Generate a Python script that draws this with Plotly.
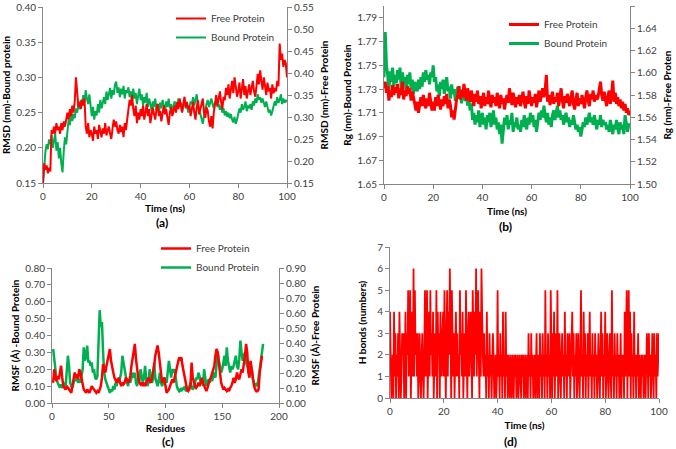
import numpy as np
import plotly.graph_objects as go

RED = "#FF0000"
GREEN = "#00B050"
AXIS = "#868686"
FONT = "Lato"

# (a) RMSD, sampled every 0.5 ns
rmsd_free = [  # right axis
    0.150, 0.195, 0.180, 0.190, 0.172, 0.185, 0.176, 0.270, 0.262, 0.278,
    0.262, 0.286, 0.270, 0.278, 0.262, 0.286, 0.270, 0.290, 0.278, 0.300,
    0.310, 0.294, 0.318, 0.302, 0.326, 0.310, 0.334, 0.390, 0.342, 0.323,
    0.334, 0.318, 0.339, 0.326, 0.342, 0.278, 0.262, 0.286, 0.254, 0.270,
    0.262, 0.246, 0.278, 0.262, 0.270, 0.250, 0.282, 0.266, 0.254, 0.274,
    0.262, 0.286, 0.258, 0.270, 0.278, 0.262, 0.250, 0.274, 0.294, 0.278,
    0.290, 0.270, 0.262, 0.282, 0.266, 0.278, 0.254, 0.286, 0.270, 0.294,
    0.318, 0.339, 0.326, 0.350, 0.318, 0.302, 0.326, 0.286, 0.310, 0.294,
    0.318, 0.302, 0.326, 0.294, 0.310, 0.330, 0.302, 0.318, 0.286, 0.310,
    0.322, 0.306, 0.294, 0.318, 0.330, 0.302, 0.314, 0.290, 0.310, 0.326,
    0.306, 0.318, 0.298, 0.282, 0.310, 0.322, 0.302, 0.314, 0.326, 0.310,
    0.334, 0.318, 0.342, 0.326, 0.310, 0.330, 0.346, 0.322, 0.334, 0.318,
    0.326, 0.302, 0.318, 0.334, 0.310, 0.294, 0.322, 0.338, 0.306, 0.318,
    0.326, 0.342, 0.310, 0.298, 0.322, 0.314, 0.290, 0.278, 0.302, 0.274,
    0.310, 0.334, 0.350, 0.326, 0.342, 0.358, 0.334, 0.318, 0.346, 0.338,
    0.366, 0.350, 0.374, 0.342, 0.362, 0.382, 0.354, 0.390, 0.370, 0.346,
    0.358, 0.378, 0.342, 0.362, 0.386, 0.350, 0.370, 0.342, 0.358, 0.374,
    0.350, 0.366, 0.382, 0.358, 0.346, 0.370, 0.398, 0.374, 0.406, 0.382,
    0.362, 0.390, 0.370, 0.350, 0.378, 0.358, 0.366, 0.342, 0.374, 0.354,
    0.366, 0.358, 0.382, 0.370, 0.467, 0.430, 0.444, 0.414, 0.430, 0.422,
    0.390,
]
rmsd_bound = [  # left axis
    0.150, 0.180, 0.195, 0.205, 0.198, 0.212, 0.205, 0.218, 0.200, 0.210,
    0.220, 0.196, 0.208, 0.185, 0.200, 0.178, 0.165, 0.195, 0.215, 0.205,
    0.225, 0.240, 0.232, 0.252, 0.238, 0.248, 0.242, 0.256, 0.250, 0.262,
    0.255, 0.268, 0.260, 0.275, 0.265, 0.282, 0.270, 0.262, 0.276, 0.255,
    0.245, 0.258, 0.240, 0.252, 0.246, 0.262, 0.250, 0.268, 0.256, 0.264,
    0.272, 0.262, 0.280, 0.268, 0.276, 0.285, 0.270, 0.282, 0.275, 0.290,
    0.294, 0.278, 0.286, 0.272, 0.284, 0.276, 0.288, 0.270, 0.282, 0.278,
    0.286, 0.272, 0.280, 0.266, 0.284, 0.270, 0.278, 0.262, 0.274, 0.284,
    0.268, 0.276, 0.260, 0.272, 0.264, 0.278, 0.258, 0.270, 0.262, 0.252,
    0.266, 0.258, 0.270, 0.254, 0.262, 0.250, 0.264, 0.256, 0.268, 0.260,
    0.252, 0.266, 0.258, 0.270, 0.256, 0.262, 0.248, 0.260, 0.266, 0.254,
    0.262, 0.270, 0.258, 0.264, 0.252, 0.260, 0.268, 0.256, 0.262, 0.250,
    0.258, 0.266, 0.262, 0.272, 0.260, 0.268, 0.276, 0.262, 0.254, 0.248,
    0.240, 0.234, 0.246, 0.256, 0.262, 0.268, 0.258, 0.264, 0.270, 0.262,
    0.256, 0.264, 0.268, 0.258, 0.262, 0.254, 0.260, 0.250, 0.256, 0.246,
    0.252, 0.244, 0.250, 0.242, 0.248, 0.240, 0.236, 0.244, 0.234, 0.240,
    0.248, 0.256, 0.250, 0.262, 0.254, 0.258, 0.266, 0.252, 0.260, 0.256,
    0.262, 0.254, 0.266, 0.260, 0.270, 0.264, 0.276, 0.268, 0.272, 0.264,
    0.270, 0.262, 0.258, 0.266, 0.256, 0.250, 0.254, 0.246, 0.252, 0.258,
    0.266, 0.260, 0.272, 0.264, 0.268, 0.276, 0.262, 0.270, 0.264, 0.268,
    0.265,
]

# (b) Rg, sampled every 0.5 ns
rg_free = [  # right axis
    1.586, 1.592, 1.582, 1.588, 1.575, 1.584, 1.578, 1.589, 1.580, 1.587,
    1.582, 1.590, 1.577, 1.586, 1.580, 1.592, 1.576, 1.584, 1.579, 1.588,
    1.581, 1.586, 1.575, 1.583, 1.578, 1.572, 1.566, 1.574, 1.564, 1.571,
    1.578, 1.570, 1.580, 1.573, 1.568, 1.577, 1.570, 1.582, 1.574, 1.566,
    1.574, 1.566, 1.578, 1.570, 1.580, 1.572, 1.567, 1.576, 1.570, 1.579,
    1.572, 1.581, 1.568, 1.576, 1.571, 1.560, 1.566, 1.558, 1.570, 1.576,
    1.580, 1.588, 1.576, 1.584, 1.578, 1.590, 1.582, 1.575, 1.586, 1.579,
    1.574, 1.584, 1.578, 1.570, 1.581, 1.574, 1.584, 1.572, 1.579, 1.568,
    1.576, 1.582, 1.570, 1.578, 1.572, 1.584, 1.574, 1.569, 1.580, 1.573,
    1.578, 1.570, 1.582, 1.574, 1.568, 1.580, 1.572, 1.577, 1.567, 1.575,
    1.580, 1.573, 1.586, 1.578, 1.571, 1.582, 1.574, 1.569, 1.578, 1.572,
    1.580, 1.570, 1.576, 1.583, 1.574, 1.568, 1.579, 1.572, 1.584, 1.575,
    1.570, 1.578, 1.573, 1.581, 1.569, 1.576, 1.584, 1.574, 1.580, 1.586,
    1.578, 1.584, 1.598, 1.574, 1.580, 1.571, 1.577, 1.583, 1.572, 1.578,
    1.574, 1.582, 1.570, 1.578, 1.586, 1.575, 1.568, 1.579, 1.573, 1.581,
    1.576, 1.570, 1.578, 1.584, 1.572, 1.567, 1.576, 1.582, 1.570, 1.577,
    1.572, 1.580, 1.574, 1.568, 1.578, 1.584, 1.575, 1.570, 1.581, 1.576,
    1.584, 1.574, 1.580, 1.576, 1.578, 1.586, 1.592, 1.580, 1.575, 1.583,
    1.576, 1.570, 1.578, 1.584, 1.572, 1.580, 1.593, 1.574, 1.582, 1.572,
    1.578, 1.570, 1.576, 1.568, 1.574, 1.566, 1.572, 1.564, 1.568, 1.562,
    1.566,
]
rg_bound = [  # left axis
    1.740, 1.778, 1.750, 1.742, 1.728, 1.745, 1.736, 1.748, 1.732, 1.742,
    1.735, 1.746, 1.738, 1.748, 1.730, 1.744, 1.736, 1.740, 1.728, 1.742,
    1.734, 1.744, 1.730, 1.738, 1.726, 1.736, 1.732, 1.728, 1.738, 1.730,
    1.740, 1.732, 1.744, 1.736, 1.746, 1.738, 1.742, 1.734, 1.744, 1.740,
    1.750, 1.736, 1.740, 1.728, 1.734, 1.724, 1.736, 1.730, 1.738, 1.726,
    1.734, 1.740, 1.728, 1.732, 1.722, 1.734, 1.726, 1.730, 1.720, 1.728,
    1.732, 1.722, 1.728, 1.718, 1.730, 1.724, 1.720, 1.726, 1.716, 1.722,
    1.712, 1.718, 1.704, 1.710, 1.700, 1.708, 1.702, 1.712, 1.698, 1.706,
    1.710, 1.700, 1.706, 1.696, 1.708, 1.702, 1.710, 1.698, 1.704, 1.712,
    1.700, 1.706, 1.696, 1.702, 1.692, 1.700, 1.684, 1.698, 1.706, 1.700,
    1.708, 1.696, 1.704, 1.700, 1.710, 1.694, 1.702, 1.698, 1.706, 1.696,
    1.700, 1.694, 1.704, 1.698, 1.708, 1.700, 1.696, 1.706, 1.700, 1.710,
    1.702, 1.708, 1.698, 1.704, 1.694, 1.702, 1.710, 1.704, 1.712, 1.706,
    1.716, 1.708, 1.702, 1.710, 1.700, 1.706, 1.698, 1.708, 1.712, 1.704,
    1.710, 1.716, 1.706, 1.712, 1.704, 1.708, 1.700, 1.706, 1.710, 1.702,
    1.706, 1.698, 1.704, 1.700, 1.708, 1.702, 1.696, 1.700, 1.694, 1.698,
    1.690, 1.696, 1.702, 1.698, 1.706, 1.700, 1.704, 1.710, 1.702, 1.706,
    1.700, 1.708, 1.702, 1.696, 1.704, 1.700, 1.708, 1.698, 1.704, 1.700,
    1.702, 1.696, 1.700, 1.694, 1.704, 1.698, 1.692, 1.700, 1.696, 1.704,
    1.698, 1.692, 1.702, 1.696, 1.700, 1.692, 1.708, 1.698, 1.694, 1.700,
    1.700,
]

# (c) RMSF per residue
rmsf_bound = [  # left axis, residues 1-186
    0.32, 0.25, 0.18, 0.14, 0.12, 0.10, 0.09, 0.11, 0.09, 0.10,
    0.12, 0.10, 0.20, 0.28, 0.22, 0.12, 0.10, 0.09, 0.12, 0.15,
    0.13, 0.15, 0.12, 0.14, 0.12, 0.15, 0.20, 0.33, 0.25, 0.28,
    0.34, 0.24, 0.25, 0.22, 0.24, 0.18, 0.20, 0.15, 0.14, 0.16,
    0.35, 0.55, 0.45, 0.48, 0.30, 0.18, 0.14, 0.12, 0.09, 0.08,
    0.06, 0.08, 0.07, 0.10, 0.08, 0.12, 0.10, 0.14, 0.12, 0.15,
    0.18, 0.28, 0.24, 0.20, 0.15, 0.12, 0.10, 0.14, 0.12, 0.15,
    0.18, 0.15, 0.18, 0.12, 0.10, 0.15, 0.13, 0.20, 0.14, 0.12,
    0.15, 0.22, 0.14, 0.10, 0.12, 0.20, 0.15, 0.12, 0.14, 0.24,
    0.15, 0.12, 0.10, 0.13, 0.18, 0.12, 0.10, 0.12, 0.14, 0.15,
    0.12, 0.18, 0.25, 0.20, 0.15, 0.20, 0.18, 0.20, 0.14, 0.10,
    0.08, 0.07, 0.08, 0.07, 0.09, 0.08, 0.10, 0.07, 0.08, 0.09,
    0.10, 0.12, 0.10, 0.08, 0.09, 0.12, 0.15, 0.14, 0.18, 0.16,
    0.12, 0.14, 0.10, 0.20, 0.14, 0.10, 0.12, 0.14, 0.12, 0.15,
    0.13, 0.16, 0.18, 0.15, 0.22, 0.30, 0.25, 0.22, 0.18, 0.20,
    0.24, 0.28, 0.22, 0.33, 0.25, 0.20, 0.18, 0.22, 0.20, 0.22,
    0.25, 0.28, 0.22, 0.20, 0.26, 0.37, 0.30, 0.25, 0.28, 0.30,
    0.24, 0.22, 0.20, 0.24, 0.22, 0.20, 0.14, 0.12, 0.10, 0.11,
    0.10, 0.15, 0.20, 0.26, 0.30, 0.35,
]
rmsf_free = [  # right axis, residues 1-185
    0.135, 0.225, 0.169, 0.146, 0.180, 0.158, 0.203, 0.248, 0.169, 0.113,
    0.101, 0.090, 0.113, 0.101, 0.090, 0.079, 0.068, 0.113, 0.169, 0.203,
    0.169, 0.191, 0.158, 0.225, 0.203, 0.169, 0.113, 0.090, 0.079, 0.068,
    0.090, 0.079, 0.068, 0.090, 0.113, 0.101, 0.090, 0.079, 0.068, 0.079,
    0.068, 0.090, 0.113, 0.169, 0.259, 0.225, 0.203, 0.248, 0.281, 0.315,
    0.360, 0.281, 0.225, 0.203, 0.169, 0.146, 0.135, 0.158, 0.169, 0.135,
    0.113, 0.135, 0.124, 0.135, 0.169, 0.158, 0.135, 0.146, 0.180, 0.248,
    0.293, 0.338, 0.394, 0.293, 0.225, 0.169, 0.135, 0.124, 0.135, 0.113,
    0.135, 0.113, 0.135, 0.158, 0.169, 0.146, 0.135, 0.169, 0.203, 0.248,
    0.315, 0.360, 0.383, 0.338, 0.281, 0.203, 0.135, 0.158, 0.169, 0.113,
    0.068, 0.079, 0.090, 0.113, 0.135, 0.158, 0.135, 0.169, 0.203, 0.225,
    0.270, 0.304, 0.293, 0.304, 0.248, 0.203, 0.158, 0.113, 0.090, 0.079,
    0.090, 0.113, 0.270, 0.169, 0.135, 0.113, 0.101, 0.113, 0.135, 0.113,
    0.135, 0.169, 0.135, 0.113, 0.090, 0.079, 0.101, 0.135, 0.158, 0.169,
    0.203, 0.225, 0.248, 0.315, 0.360, 0.338, 0.248, 0.203, 0.135, 0.113,
    0.090, 0.101, 0.090, 0.079, 0.090, 0.079, 0.101, 0.113, 0.135, 0.169,
    0.135, 0.158, 0.203, 0.169, 0.158, 0.191, 0.225, 0.203, 0.248, 0.315,
    0.394, 0.338, 0.203, 0.169, 0.281, 0.225, 0.135, 0.113, 0.090, 0.079,
    0.079, 0.090, 0.203, 0.281, 0.315,
]

# (d) H bonds, sampled every 0.25 ns
hbonds = [
    4, 2, 0, 1, 2, 0, 4, 1, 3, 0, 2, 1, 3, 0, 4, 2, 0, 1, 3, 2,
    3, 0, 1, 4, 0, 3, 2, 5, 1, 3, 5, 0, 2, 4, 1, 6, 1, 5, 2, 3,
    1, 3, 0, 2, 3, 1, 0, 2, 3, 1, 0, 2, 5, 1, 3, 5, 0, 2, 4, 1,
    5, 2, 3, 1, 4, 0, 2, 3, 1, 5, 0, 4, 2, 3, 0, 4, 2, 1, 3, 4,
    1, 5, 2, 0, 3, 5, 1, 4, 2, 6, 3, 0, 5, 2, 1, 3, 0, 2, 4, 1,
    3, 1, 2, 0, 5, 2, 3, 1, 4, 0, 2, 3, 1, 5, 2, 0, 3, 4, 1, 2,
    4, 2, 0, 5, 3, 1, 4, 2, 6, 1, 3, 5, 2, 0, 4, 1, 6, 3, 2, 1,
    3, 1, 2, 0, 4, 1, 2, 0, 3, 1, 2, 0, 1, 3, 2, 0, 1, 2, 0, 1,
    5, 1, 2, 0, 3, 1, 2, 0, 4, 1, 2, 0, 4, 1, 2, 0, 2, 1, 0, 2,
    1, 0, 2, 1, 0, 2, 1, 2, 0, 1, 2, 0, 1, 2, 1, 0, 2, 1, 2, 0,
    1, 2, 0, 1, 2, 0, 3, 1, 2, 0, 3, 1, 2, 0, 1, 2, 0, 1, 3, 0,
    2, 1, 0, 3, 1, 2, 0, 3, 1, 2, 0, 5, 1, 2, 0, 3, 1, 2, 0, 5,
    2, 0, 3, 1, 4, 0, 2, 3, 1, 5, 0, 2, 3, 1, 0, 2, 3, 1, 2, 0,
    4, 1, 2, 0, 3, 1, 2, 3, 0, 1, 2, 4, 1, 3, 0, 2, 1, 3, 0, 2,
    3, 1, 0, 2, 5, 1, 2, 0, 4, 1, 3, 0, 2, 1, 3, 0, 2, 4, 1, 2,
    0, 3, 1, 2, 0, 3, 1, 2, 0, 2, 3, 1, 0, 2, 4, 1, 3, 0, 2, 1,
    4, 0, 2, 3, 1, 0, 2, 3, 1, 0, 5, 1, 2, 0, 3, 1, 2, 0, 3, 1,
    2, 0, 1, 3, 0, 2, 1, 2, 0, 4, 1, 3, 5, 0, 2, 5, 1, 4, 0, 3,
    1, 2, 0, 4, 1, 2, 0, 2, 1, 3, 0, 2, 1, 0, 2, 1, 2, 0, 1, 2,
    0, 1, 3, 2, 0, 3, 1, 2, 0, 1, 3, 2, 0, 3, 1, 2, 0, 3, 1, 2,
    3,
]

t_rmsd = np.linspace(0, 100, len(rmsd_free))
t_rg = np.linspace(0, 100, len(rg_free))
t_hb = np.linspace(0, 100, len(hbonds))
res_bound = np.arange(1, len(rmsf_bound) + 1)
res_free = np.arange(1, len(rmsf_free) + 1)

fig = go.Figure()

# (a)
fig.add_trace(go.Scatter(x=t_rmsd, y=rmsd_free, name="Free Protein", mode="lines",
                         line=dict(color=RED, width=2), xaxis="x", yaxis="y2", legend="legend"))
fig.add_trace(go.Scatter(x=t_rmsd, y=rmsd_bound, name="Bound Protein", mode="lines",
                         line=dict(color=GREEN, width=2), xaxis="x", yaxis="y", legend="legend"))
# (b)
fig.add_trace(go.Scatter(x=t_rg, y=rg_free, name="Free Protein", mode="lines",
                         line=dict(color=RED, width=3), xaxis="x2", yaxis="y4", legend="legend2"))
fig.add_trace(go.Scatter(x=t_rg, y=rg_bound, name="Bound Protein", mode="lines",
                         line=dict(color=GREEN, width=3), xaxis="x2", yaxis="y3", legend="legend2"))
# (c)
fig.add_trace(go.Scatter(x=res_free, y=rmsf_free, name="Free Protein", mode="lines",
                         line=dict(color=RED, width=2.5), xaxis="x3", yaxis="y6", legend="legend3"))
fig.add_trace(go.Scatter(x=res_bound, y=rmsf_bound, name="Bound Protein", mode="lines",
                         line=dict(color=GREEN, width=2.5), xaxis="x3", yaxis="y5", legend="legend3"))
# (d)
fig.add_trace(go.Scatter(x=t_hb, y=hbonds, mode="lines", showlegend=False,
                         line=dict(color=RED, width=1.8), xaxis="x4", yaxis="y7"))

tickfont = dict(family=FONT, size=10, color="#404040")
titlefont = dict(family=FONT, size=10, color="black")


def ax(**kw):
    base = dict(showline=True, linecolor=AXIS, linewidth=1, ticks="outside", ticklen=4,
                tickcolor=AXIS, showgrid=False, zeroline=False, tickfont=tickfont,
                title_font=titlefont, automargin=False)
    base.update(kw)
    return base


def px_x(p):
    return p / 676


def px_y(p):
    return 1 - p / 449


legfont = dict(family=FONT, size=10, color="#404040")

fig.update_layout(
    width=676, height=449,
    margin=dict(l=0, r=0, t=0, b=0, pad=0, autoexpand=False),
    paper_bgcolor="white", plot_bgcolor="white",
    font=dict(family=FONT, size=10, color="black"),
    # (a)
    xaxis=ax(domain=[px_x(43), px_x(287)], range=[0, 100], dtick=20, anchor="y",
             title=dict(text="<b>Time (ns)</b>", standoff=1)),
    yaxis=ax(domain=[px_y(183), px_y(7)], range=[0.15, 0.40], dtick=0.05, tickformat=".2f",
             anchor="x", title=dict(text="<b>RMSD (nm)-Bound protein</b>", standoff=3)),
    yaxis2=ax(range=[0.15, 0.55], dtick=0.05, tickformat=".2f", overlaying="y", side="right",
              anchor="x", title=dict(text="<b>RMSD (nm)-Free Protein</b>", standoff=8)),
    # (b)
    xaxis2=ax(domain=[px_x(384), px_x(630)], range=[0, 100], dtick=20, anchor="y3",
              title=dict(text="<b>Time (ns)</b>", standoff=5)),
    yaxis3=ax(domain=[px_y(184), px_y(6)], range=[1.65, 1.80], tick0=1.65, dtick=0.02,
              tickformat=".2f", anchor="x2",
              title=dict(text="<b>Rg (nm)-Bound Protein</b>", standoff=3)),
    yaxis4=ax(range=[1.50, 1.66], dtick=0.02, tickformat=".2f", overlaying="y3", side="right",
              anchor="x2", title=dict(text="<b>Rg (nm)-Free Proten</b>", standoff=8)),
    # (c)
    xaxis3=ax(domain=[px_x(52), px_x(279)], range=[0, 200], dtick=50, anchor="y5",
              title=dict(text="<b>Residues</b>", standoff=1)),
    yaxis5=ax(domain=[px_y(403), px_y(268)], range=[0, 0.80], dtick=0.1, tickformat=".2f",
              anchor="x3", title=dict(text="<b>RMSF (Å) -Bound Protein</b>", standoff=3)),
    yaxis6=ax(range=[0, 0.90], dtick=0.1, tickformat=".2f", overlaying="y5", side="right",
              anchor="x3", title=dict(text="<b>RMSF (Å)-Free Protein</b>", standoff=7)),
    # (d)
    xaxis4=ax(domain=[px_x(390), px_x(659)], range=[0, 100], dtick=20, anchor="y7",
              title=dict(text="<b>Time (ns)</b>", standoff=5)),
    yaxis7=ax(domain=[px_y(398), px_y(247)], range=[0, 7], dtick=1, anchor="x4",
              title=dict(text="<b>H bonds (numbers)</b>", standoff=8)),
    legend=dict(x=px_x(171), y=px_y(4), xanchor="left", yanchor="top",
                bgcolor="rgba(0,0,0,0)", font=legfont, tracegroupgap=0),
    legend2=dict(x=px_x(504), y=px_y(10), xanchor="left", yanchor="top",
                 bgcolor="rgba(0,0,0,0)", font=legfont, tracegroupgap=0),
    legend3=dict(x=px_x(156), y=px_y(234), xanchor="left", yanchor="top",
                 bgcolor="rgba(0,0,0,0)", font=legfont, tracegroupgap=0),
)

labels = [("(a)", 162, 222), ("(b)", 505, 226), ("(c)", 168, 441), ("(d)", 510, 441)]
for txt, xp, yp in labels:
    fig.add_annotation(text="<b>" + txt + "</b>", x=px_x(xp), y=px_y(yp), xref="paper", yref="paper",
                       xanchor="center", yanchor="middle", showarrow=False,
                       font=dict(family=FONT, size=12, color="black"))

# the page body has a default 8px margin; drop it so the figure sits at the window origin
fig.write_html("out.html", config={"displayModeBar": False},
               post_script="document.body.style.margin='0px';")
